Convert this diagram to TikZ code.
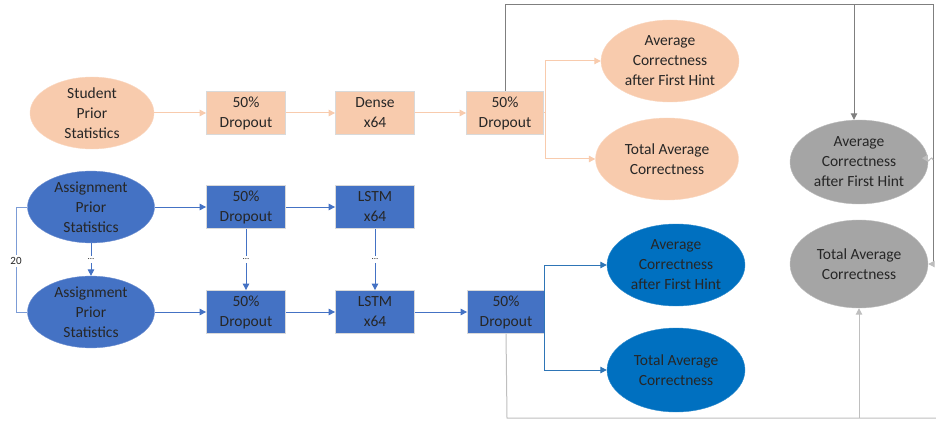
\documentclass[tikz,border=0pt]{standalone}
\usepackage{fontspec}
\setmainfont{Carlito}
\usetikzlibrary{shapes.geometric,arrows.meta}

\definecolor{peach}{HTML}{F8CBAD}
\definecolor{peachline}{HTML}{F8CBAD}
\definecolor{peachedge}{HTML}{FAD7C0}
\definecolor{slate}{HTML}{4472C4}
\definecolor{slateedge}{HTML}{6F8FD0}
\definecolor{ocean}{HTML}{0070C0}
\definecolor{oceanline}{HTML}{2E75B6}
\definecolor{ash}{HTML}{A5A5A5}
\definecolor{ashedge}{HTML}{BDBDBD}
\definecolor{darkline}{HTML}{7F7F7F}
\definecolor{lightline}{HTML}{BFBFBF}
\definecolor{ink}{HTML}{262626}

\tikzset{
  txt/.style={font=\fontsize{15.5}{20}\selectfont, text=ink, align=center},
  oval/.style={txt, ellipse, inner sep=0pt},
  stepbox/.style={txt, rectangle, draw=gray!30, line width=0.8pt,
    minimum width=79pt, minimum height=43pt, inner sep=0pt},
  tip/.style={-{Triangle[length=6.5pt,width=6.5pt]}},
  dotslbl/.style={font=\fontsize{9}{10}\selectfont, text=ink, fill=white,
    inner xsep=1pt, inner ysep=3pt},
}

\begin{document}
\begin{tikzpicture}[x=1pt,y=-1pt]
  \useasboundingbox (0,0) rectangle (936,422);

  % ---- student branch ----
  \node[oval, fill=peach, draw=peachedge, minimum width=124pt, minimum height=66pt]
    (sps) at (92,113) {Student\\Prior\\Statistics};
  \node[stepbox, fill=peach] (sd1) at (246,113) {50\%\\Dropout};
  \node[stepbox, fill=peach] (dense) at (375,113) {Dense\\x64};
  \node[stepbox, fill=peach, minimum width=77pt] (sd2) at (505,113) {50\%\\Dropout};
  \node[oval, fill=peach, draw=peachedge, minimum width=138pt, minimum height=82pt]
    (sacc) at (670,61) {Average\\Correctness\\after First Hint};
  \node[oval, fill=peach, draw=peachedge, minimum width=143pt, minimum height=82pt]
    (stot) at (667,159) {Total Average\\Correctness};

  \draw[tip, peachline, line width=1pt] (sps) -- (sd1);
  \draw[tip, peachline, line width=1pt] (sd1) -- (dense);
  \draw[tip, peachline, line width=1pt] (dense) -- (sd2);
  \draw[tip, peachline, line width=1pt] (sd2.east) -- ++(2,0) |- (sacc.west);
  \draw[tip, peachline, line width=1pt] (sd2.east) -- ++(2,0) |- (stot.west);

  % ---- assignment branch, first step ----
  \node[oval, fill=slate, draw=slateedge, minimum width=127pt, minimum height=65pt]
    (aps1) at (91,207) {Assignment\\Prior\\Statistics};
  \node[stepbox, fill=slate] (ad1) at (246,207) {50\%\\Dropout};
  \node[stepbox, fill=slate] (lstm1) at (375,207) {LSTM\\x64};

  % ---- assignment branch, last step ----
  \node[oval, fill=slate, draw=slateedge, minimum width=127pt, minimum height=65pt]
    (aps2) at (91,312) {Assignment\\Prior\\Statistics};
  \node[stepbox, fill=slate] (ad2) at (246,312) {50\%\\Dropout};
  \node[stepbox, fill=slate] (lstm2) at (375,312) {LSTM\\x64};
  \node[stepbox, fill=slate, minimum width=77pt] (ad3) at (506,312) {50\%\\Dropout};
  \node[oval, fill=ocean, draw=ocean!80!white, minimum width=138pt, minimum height=82pt]
    (aacc) at (676,265) {Average\\Correctness\\after First Hint};
  \node[oval, fill=ocean, draw=ocean!80!white, minimum width=138pt, minimum height=84pt]
    (atot) at (676,370) {Total Average\\Correctness};

  \draw[tip, slate, line width=1pt] (aps1) -- (ad1);
  \draw[tip, slate, line width=1pt] (ad1) -- (lstm1);
  \draw[tip, slate, line width=1pt] (aps2) -- (ad2);
  \draw[tip, slate, line width=1pt] (ad2) -- (lstm2);
  \draw[tip, slate, line width=1pt] (lstm2) -- (ad3);
  \draw[tip, oceanline, line width=1pt] (ad3.east) -- ++(0,0) |- (aacc.west);
  \draw[tip, oceanline, line width=1pt] (ad3.east) -- ++(0,0) |- (atot.west);

  % repeated time steps
  \draw[tip, slate, line width=1pt] (aps1.south) -- (aps2.north)
    node[pos=0.5, dotslbl] {...};
  \draw[tip, slate, line width=1pt] (ad1.south) -- (ad2.north)
    node[pos=0.5, dotslbl] {...};
  \draw[tip, slate, line width=1pt] (lstm1.south) -- (lstm2.north)
    node[pos=0.5, dotslbl] {...};

  % sequence length bracket
  \coordinate (bt) at (16,207);
  \coordinate (bb) at (16,312);
  \draw[slate!70!white, line width=1pt] (aps1.west) -- (bt) -- (bb) -- (aps2.west);
  \node[font=\fontsize{11}{12}\selectfont, text=ink, fill=white, inner sep=2pt]
    (seqlen) at (16,261) {20};

  % ---- combined outputs ----
  \node[oval, fill=ash, draw=ashedge, minimum width=138pt, minimum height=84pt]
    (gacc) at (859,162) {Average\\Correctness\\after First Hint};
  \node[oval, fill=ash, draw=ashedge, minimum width=138pt, minimum height=88pt]
    (gtot) at (859,264) {Total Average\\Correctness};

  \coordinate (tl) at (505,5);
  \coordinate (tm) at (854,5);
  \coordinate (tr) at (933,5);
  \coordinate (rr) at (933,264);
  \coordinate (rq) at (933,160);
  \draw[darkline, line width=1pt] (sd2.north) -- (tl) -- (tr) -- (rr);
  \draw[tip, darkline, line width=1pt] (tm) -- (tm |- gacc.north);
  \draw[tip, ashedge, line width=1pt] (rr) -- (gtot.east);
  \draw[tip, ashedge, line width=1pt] (rq) .. controls (931,154) and (929,164) .. (927,160) -- (gacc.east);

  \coordinate (bl) at (507,418);
  \coordinate (bm) at (859,418);
  \coordinate (br) at (936,418);
  \draw[lightline, line width=1pt] (ad3.south) -- (bl) -- (br);
  \draw[tip, lightline, line width=1pt] (bm) -- (gtot.south);
\end{tikzpicture}
\end{document}
